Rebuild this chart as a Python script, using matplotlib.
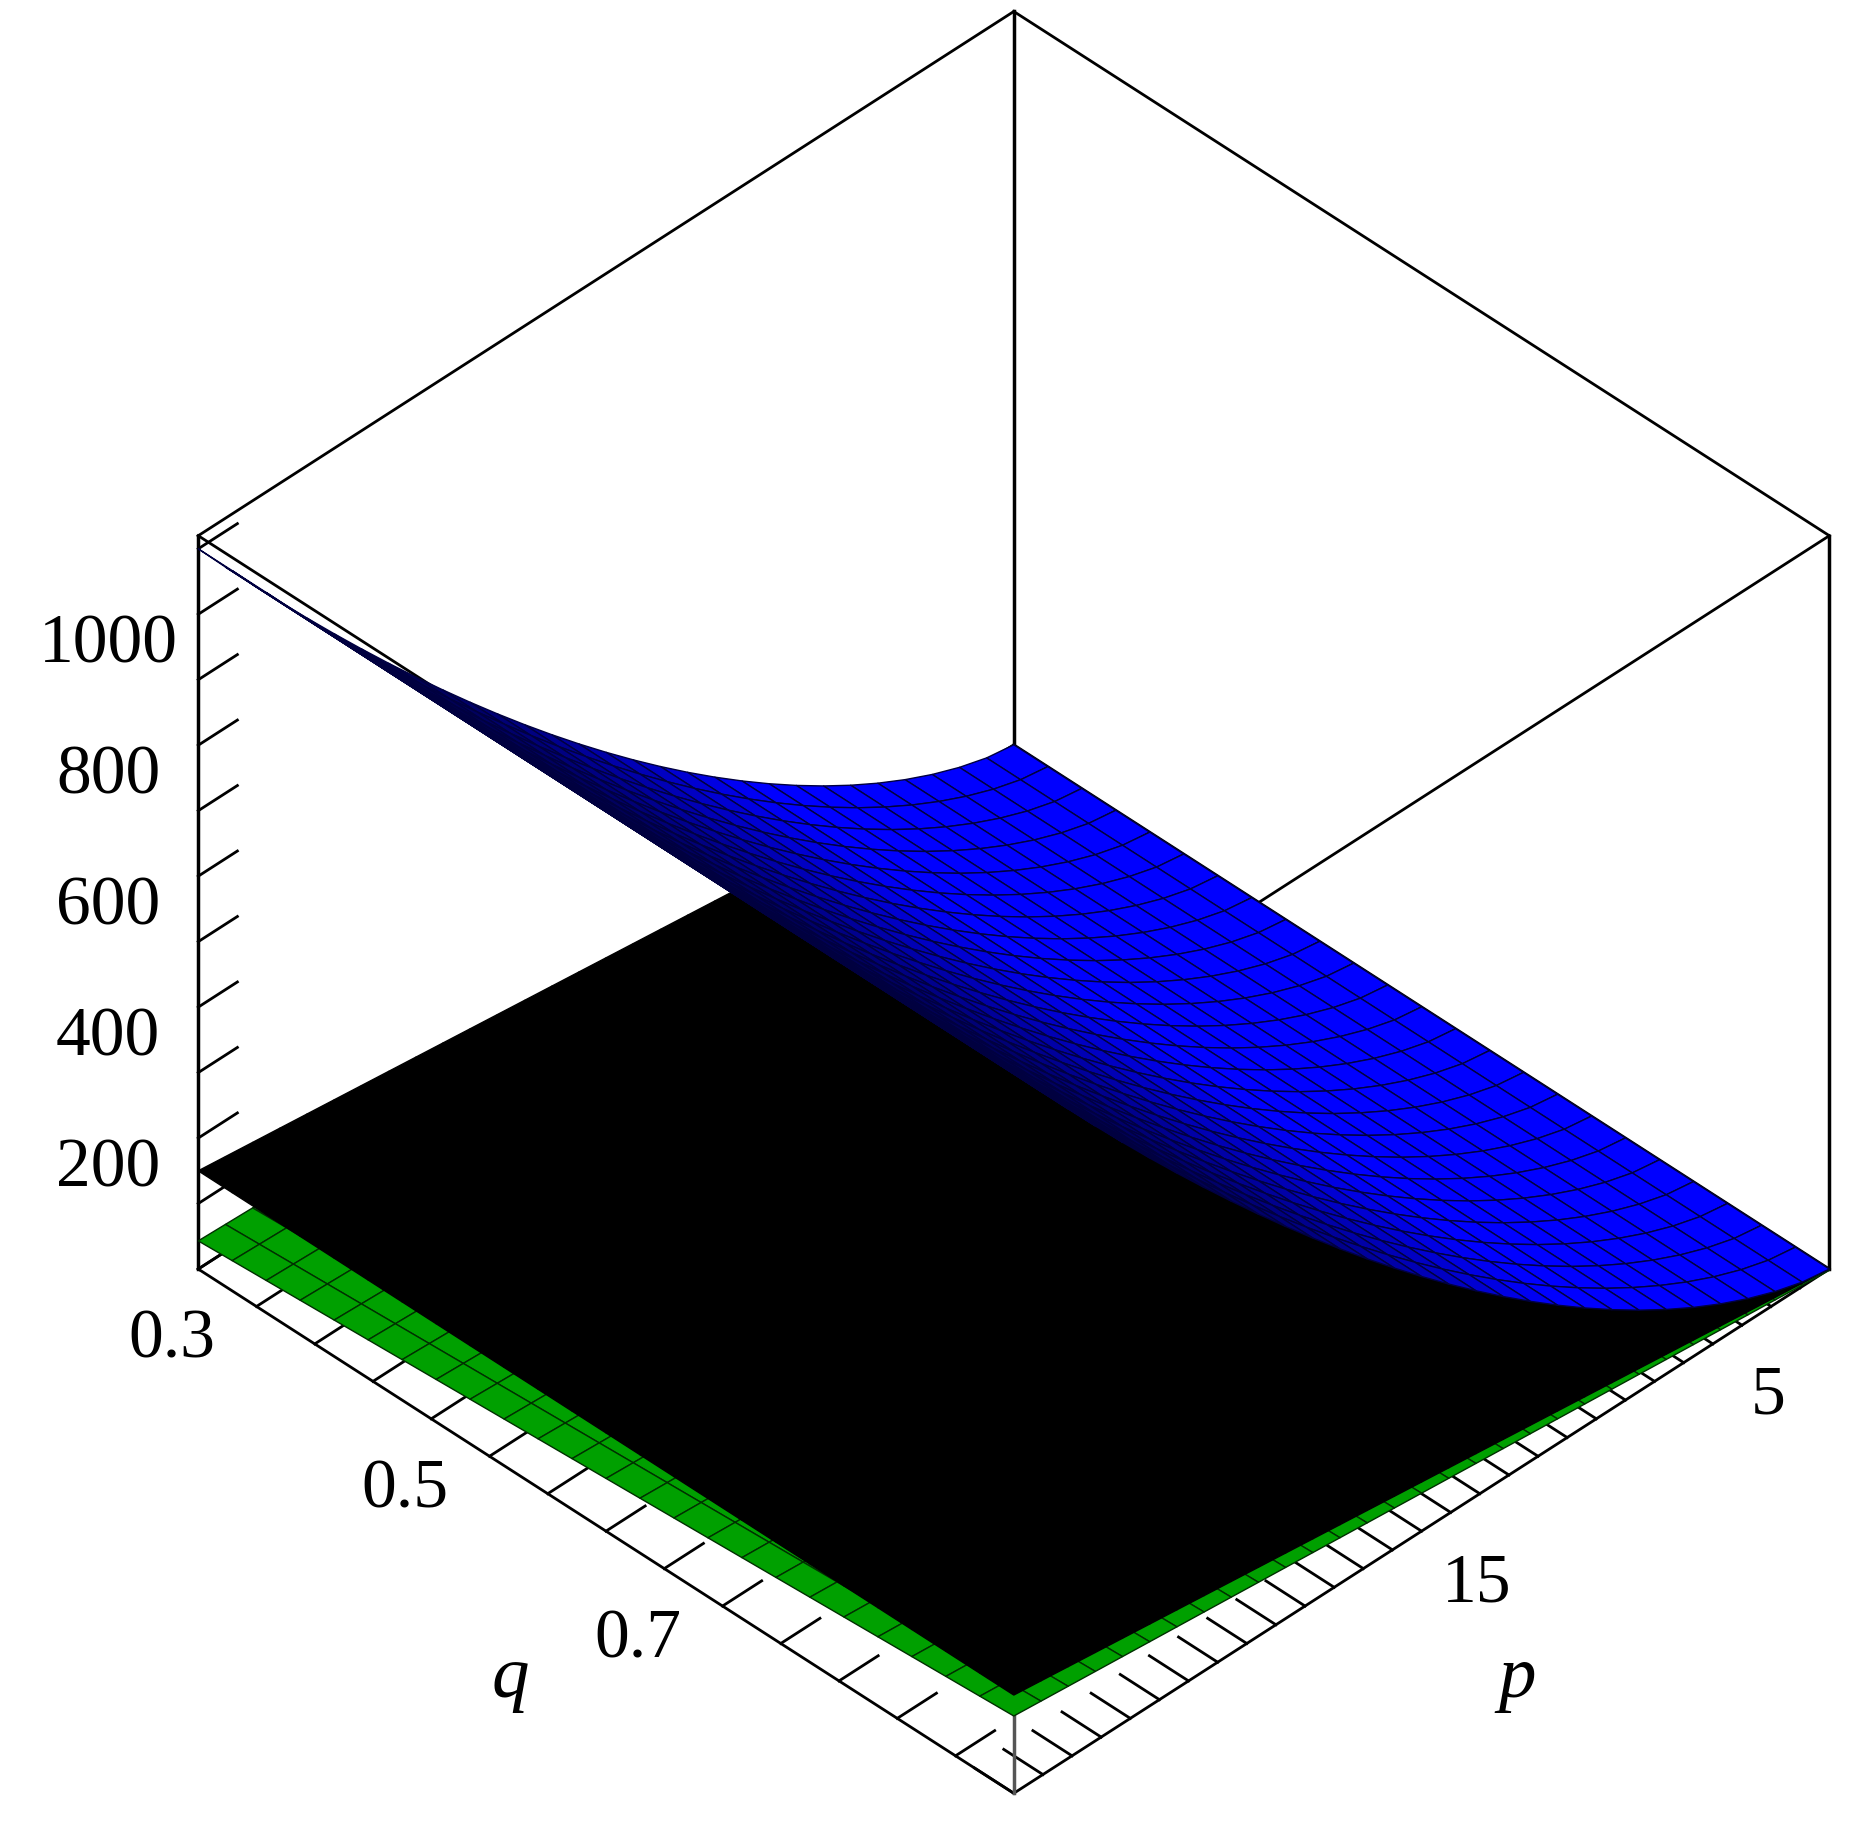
import numpy as np
import matplotlib
matplotlib.use("Agg")
import matplotlib.pyplot as plt
from matplotlib.colors import to_rgb
from mpl_toolkits.mplot3d import Axes3D  # noqa
from mpl_toolkits.mplot3d.art3d import Poly3DCollection

plt.rcParams['font.family'] = ['Liberation Serif', 'DejaVu Serif']

# axis ranges
p_min, p_max = 2.0, 30.0
q_min, q_max = 0.3, 1.0
z_min, z_max = 0.0, 1120.0

q_ticks = [0.3, 0.5, 0.7]
p_ticks = [5, 15]
z_ticks = [200, 400, 600, 800, 1000]

# grid of the surfaces
p = np.linspace(p_min, p_max, 31)
q = np.linspace(q_min, q_max, 25)
P, Q = np.meshgrid(p, q)
U = (P - p_min) / (p_max - p_min)

# estimated surfaces
z_blue = 1100 * U**1.5
z_black = 150 * U
z_green = z_black * (0.3 + 0.5 * (Q - q_min) / (q_max - q_min)) - 2

aspect = (1, 1, 0.83)


def quads(Z, base, shade):
    """Vierecke einer Fläche mit Farben (optional schattiert nach Steilheit)."""
    polys, cols = [], []
    rgb = np.array(to_rgb(base))
    for i in range(Z.shape[0] - 1):
        for j in range(Z.shape[1] - 1):
            idx = [(i, j), (i, j + 1), (i + 1, j + 1), (i + 1, j)]
            v = np.array([[P[a, b], Q[a, b], Z[a, b]] for a, b in idx])
            polys.append(v)
            if shade:
                s = (v - [p_min, q_min, z_min]) / [p_max - p_min, q_max - q_min, z_max - z_min] * aspect
                n = np.cross(s[2] - s[0], s[3] - s[1])
                n = n / (np.linalg.norm(n) + 1e-12)
                f = np.clip((abs(n[2]) - 0.62) / 0.2, 0.08, 1.0)
                cols.append(np.clip(rgb * f, 0, 1))
            else:
                cols.append(rgb)
    return polys, cols


fig = plt.figure(figsize=(18.66, 18.36), dpi=100)
ax = fig.add_axes([0.03, -0.005, 1.0, 1.0], projection='3d')
ax.set_proj_type('ortho')
ax.view_init(elev=40, azim=45)
ax.set_box_aspect(aspect, zoom=1.0)

all_polys, all_face, all_edge = [], [], []
for Z, base, edge, sh in [(z_green, '#00a000', '#003000', False),
                          (z_black, '#000000', '#000000', False),
                          (z_blue, '#0000ff', '#000040', True)]:
    pl, cl = quads(Z, base, sh)
    all_polys += pl
    all_face += cl
    all_edge += [edge] * len(pl)
coll = Poly3DCollection(all_polys, facecolors=all_face, edgecolors=all_edge, linewidths=1.0)
ax.add_collection3d(coll)

# box edges
xs, ys, zs = [p_min, p_max], [q_min, q_max], [z_min, z_max]
for y in ys:
    for z in zs:
        ax.plot(xs, [y, y], [z, z], color='black', lw=2)
for x in xs:
    for z in zs:
        ax.plot([x, x], ys, [z, z], color='black', lw=2)
for x in xs:
    for y in ys:
        ax.plot([x, x], [y, y], zs, color='#555555' if (x, y) == (p_max, q_max) else 'black', lw=2.5)

ax.set_xlim(p_min, p_max)
ax.set_ylim(q_min, q_max)
ax.set_zlim(z_min, z_max)

p_all = list(range(3, 31))
q_all = [round(0.3 + 0.05 * i, 2) for i in range(14)]
z_all = list(range(100, 1101, 100))
ax.set_xticks(p_all)
ax.set_xticklabels([str(v) if v in p_ticks else '' for v in p_all])
ax.set_yticks(q_all)
ax.set_yticklabels([f"{v:.1f}" if v in q_ticks else '' for v in q_all])
ax.set_zticks(z_all)
ax.set_zticklabels([str(v) if v in z_ticks else '' for v in z_all])
ax.tick_params(labelsize=50, pad=14)
ax.tick_params(axis='z', pad=30)
ax.set_xlabel('p', fontsize=54, fontstyle='italic', labelpad=60)
ax.set_ylabel('q', fontsize=54, fontstyle='italic', labelpad=60)
for a in (ax.xaxis, ax.yaxis, ax.zaxis):
    a.set_pane_color((1, 1, 1, 0))
    a.line.set_color((0, 0, 0, 0))
    a._axinfo['tick']['inward_factor'] = 0.0
    a._axinfo['tick']['outward_factor'] = 0.6
    a._axinfo['tick']['linewidth'] = {True: 2.0, False: 1.5}
ax.grid(False)

fig.savefig('out.png', dpi=100)
